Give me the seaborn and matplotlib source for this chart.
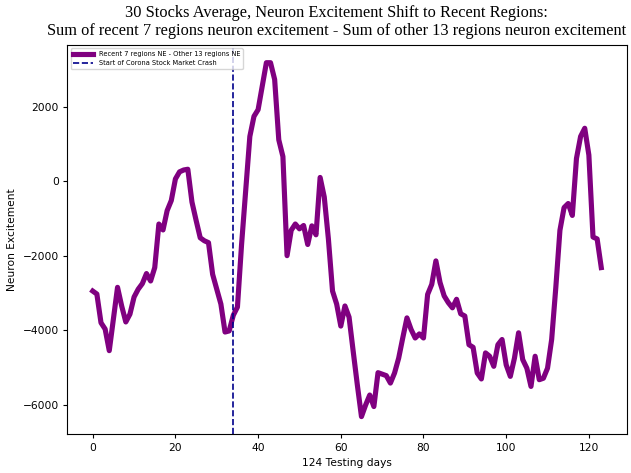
import numpy as np
import pandas as pd
import seaborn as sns
import matplotlib
matplotlib.use("Agg")
import matplotlib.pyplot as plt

# daily values
days = list(range(124))
shift = [
    -2950, -3030, -3800, -3970, -4550, -3700, -2850, -3350, -3780, -3570,
    -3110, -2900, -2750, -2480, -2680, -2320, -1150, -1310, -790, -520,
    60, 250, 300, 320, -560, -1050, -1520, -1600, -1650, -2500,
    -2900, -3300, -4050, -4020, -3600, -3380, -1700, -250, 1200, 1740,
    1920, 2550, 3180, 3180, 2730, 1110, 660, -2000, -1320, -1150,
    -1280, -1190, -1700, -1200, -1440, 100, -425, -1550, -2950, -3300,
    -3890, -3350, -3650, -4570, -5470, -6320, -6010, -5740, -6050, -5140,
    -5180, -5220, -5420, -5150, -4750, -4200, -3670, -3980, -4210, -4100,
    -4210, -3040, -2770, -2140, -2720, -3080, -3260, -3400, -3170, -3560,
    -3620, -4390, -4460, -5150, -5310, -4610, -4700, -4970, -4390, -4250,
    -4930, -5240, -4750, -4070, -4790, -5020, -5510, -4700, -5330, -5290,
    -5020, -4250, -2860, -1320, -710, -600, -920, 610, 1200, 1420,
    700, -1500, -1550, -2320,
]
crash_day = 34

df = pd.DataFrame({"day": days, "ne": shift})

fig = plt.figure(figsize=(6.31, 4.73), dpi=100)
ax = fig.add_axes([67.3 / 631, 38.7 / 473, 559.4 / 631, 389.3 / 473])

sns.lineplot(data=df, x="day", y="ne", ax=ax, color="purple", linewidth=3.7,
             label="Recent 7 regions NE - Other 13 regions NE")
ax.axvline(crash_day, color="darkblue", linestyle="--", linewidth=1.2,
           label="Start of Corona Stock Market Crash")

ax.set_xlabel("124 Testing days", fontsize=7.7)
ax.set_ylabel("Neuron Excitement", fontsize=7.7)
ax.tick_params(labelsize=7.7, length=2.7)
ax.set_xticks([0, 20, 40, 60, 80, 100, 120])
ax.set_yticks([-6000, -4000, -2000, 0, 2000])
ax.legend(loc="upper left", fontsize=4.8, handlelength=3)

fig.text(0.533, 0.973, "30 Stocks Average, Neuron Excitement Shift to Recent Regions:",
         ha="center", va="center", family="Liberation Serif", fontsize=11.8)
fig.text(0.533, 0.934, "Sum of recent 7 regions neuron excitement - Sum of other 13 regions neuron excitement",
         ha="center", va="center", family="Liberation Serif", fontsize=11.8)

fig.savefig("out.png", dpi=100)
